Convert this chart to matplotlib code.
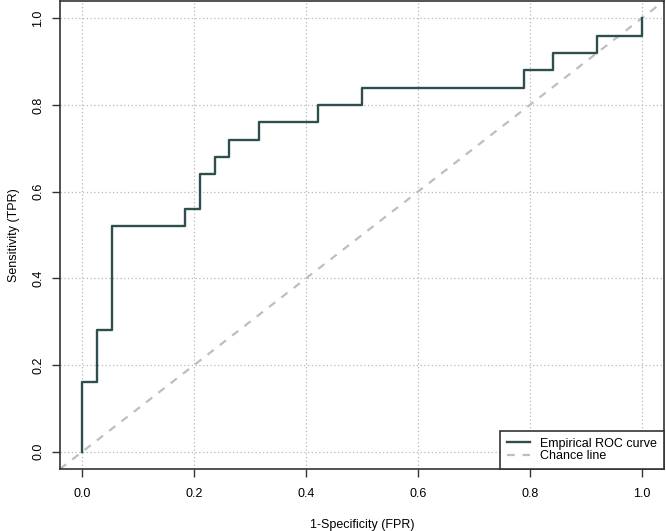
import matplotlib
matplotlib.use("Agg")
import matplotlib.pyplot as plt

plt.rcParams['font.family'] = ['Liberation Sans', 'DejaVu Sans']

# ROC step points (FPR, TPR)
fpr = [0.0, 0.0, 0.026, 0.026, 0.053, 0.053, 0.184, 0.184, 0.211, 0.211,
       0.237, 0.237, 0.263, 0.263, 0.316, 0.316, 0.421, 0.421, 0.5, 0.5,
       0.789, 0.789, 0.842, 0.842, 0.921, 0.921, 1.0, 1.0]
tpr = [0.0, 0.16, 0.16, 0.28, 0.28, 0.52, 0.52, 0.56, 0.56, 0.64,
       0.64, 0.68, 0.68, 0.72, 0.72, 0.76, 0.76, 0.80, 0.80, 0.84,
       0.84, 0.88, 0.88, 0.92, 0.92, 0.96, 0.96, 1.0]
ticks = [0.0, 0.2, 0.4, 0.6, 0.8, 1.0]
tick_labels = ["0.0", "0.2", "0.4", "0.6", "0.8", "1.0"]

fig = plt.figure(figsize=(6.66, 5.31), dpi=100)
ax = fig.add_axes([60/666, 1 - 469/531, 604/666, 468/531])

ax.set_xlim(-0.04, 1.04)
ax.set_ylim(-0.04, 1.04)

ax.set_xticks(ticks)
ax.set_xticklabels(tick_labels)
ax.set_yticks(ticks)
ax.set_yticklabels(tick_labels, rotation=90, va='center')

ax.grid(True, color='#b8b8b8', linestyle=(0, (1, 2)), linewidth=0.9)
ax.set_axisbelow(True)

ax.plot(fpr, tpr, color='#2F4F4F', linewidth=1.7, label='Empirical ROC curve', zorder=3)
ax.axline((0, 0), (1, 1), color='#bebebe', linestyle=(0, (3.5, 3.5)), linewidth=1.6,
          label='Chance line', zorder=2)

for s in ax.spines.values():
    s.set_color('#333333')
    s.set_linewidth(1.2)

ax.tick_params(axis='x', direction='out', length=5.5, width=1, color='#333333',
               labelsize=9, pad=8)
ax.tick_params(axis='y', direction='out', length=5.5, width=1, color='#333333',
               labelsize=9, pad=6)

ax.set_xlabel('1-Specificity (FPR)', fontsize=9, labelpad=14)
ax.set_ylabel('Sensitivity (TPR)', fontsize=9, labelpad=9)

leg = ax.legend(loc='lower right', fontsize=9, frameon=True, fancybox=False,
                borderaxespad=0, handlelength=1.9, handletextpad=0.8,
                labelspacing=0.05, borderpad=0.55, edgecolor='#333333',
                framealpha=1)
leg.get_frame().set_linewidth(1.2)

fig.savefig('out.png', dpi=100)
